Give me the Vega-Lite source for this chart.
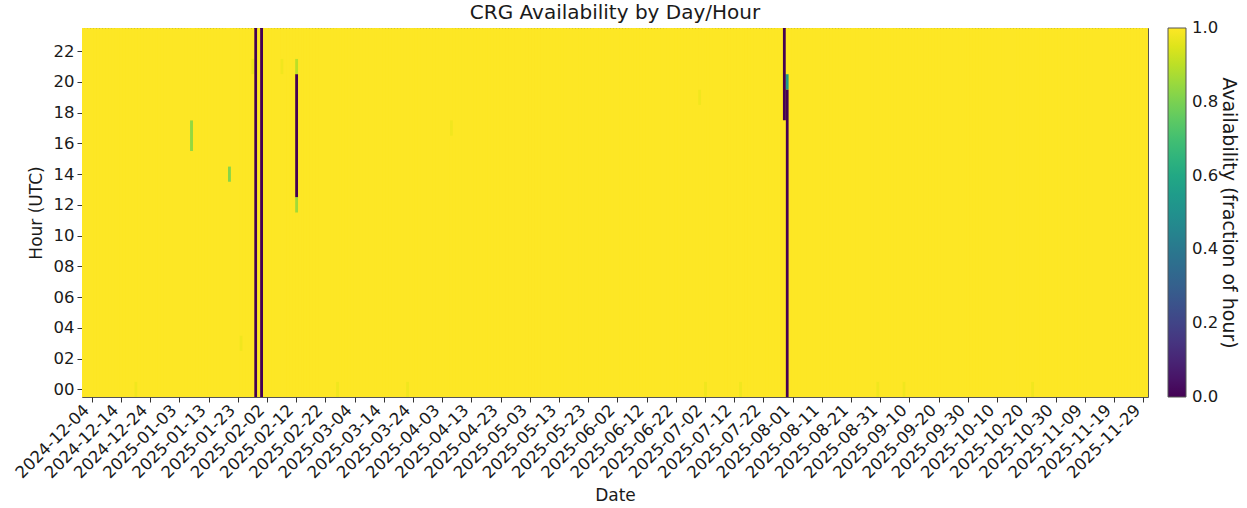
{
  "$schema": "https://vega.github.io/schema/vega-lite/v6.json",
  "width": 1066,
  "height": 369,
  "autosize": {"type": "none"},
  "padding": {"left": 82, "top": 28, "right": 99, "bottom": 111},
  "background": "white",
  "title": {"text": "CRG Availability by Day/Hour", "fontSize": 20, "fontWeight": "normal", "font": "DejaVu Sans", "color": "#1a1a1a", "offset": 5},
  "config": {
    "view": {"stroke": "#555555", "strokeWidth": 1, "fill": "#fde725"},
    "font": "DejaVu Sans"
  },
  "data": {"values": [
{"d":"2024-12-01","a":0,"b":24,"v":1},{"d":"2024-12-02","a":0,"b":24,"v":1},{"d":"2024-12-03","a":0,"b":24,"v":1},{"d":"2024-12-04","a":0,"b":24,"v":1},{"d":"2024-12-05","a":0,"b":24,"v":1},{"d":"2024-12-06","a":0,"b":24,"v":1},{"d":"2024-12-07","a":0,"b":24,"v":1},{"d":"2024-12-08","a":0,"b":24,"v":1},{"d":"2024-12-09","a":0,"b":24,"v":1},{"d":"2024-12-10","a":0,"b":24,"v":1},
{"d":"2024-12-11","a":0,"b":24,"v":1},{"d":"2024-12-12","a":0,"b":24,"v":1},{"d":"2024-12-13","a":0,"b":24,"v":1},{"d":"2024-12-14","a":0,"b":24,"v":1},{"d":"2024-12-15","a":0,"b":24,"v":1},{"d":"2024-12-16","a":0,"b":24,"v":1},{"d":"2024-12-17","a":0,"b":24,"v":1},{"d":"2024-12-18","a":0,"b":24,"v":1},{"d":"2024-12-19","a":0,"b":1,"v":0.98},{"d":"2024-12-19","a":1,"b":24,"v":1},{"d":"2024-12-20","a":0,"b":24,"v":1},
{"d":"2024-12-21","a":0,"b":24,"v":1},{"d":"2024-12-22","a":0,"b":24,"v":1},{"d":"2024-12-23","a":0,"b":24,"v":1},{"d":"2024-12-24","a":0,"b":24,"v":1},{"d":"2024-12-25","a":0,"b":24,"v":1},{"d":"2024-12-26","a":0,"b":24,"v":1},{"d":"2024-12-27","a":0,"b":24,"v":1},{"d":"2024-12-28","a":0,"b":24,"v":1},{"d":"2024-12-29","a":0,"b":24,"v":1},{"d":"2024-12-30","a":0,"b":24,"v":1},{"d":"2024-12-31","a":0,"b":24,"v":1},
{"d":"2025-01-01","a":0,"b":24,"v":1},{"d":"2025-01-02","a":0,"b":24,"v":1},{"d":"2025-01-03","a":0,"b":24,"v":1},{"d":"2025-01-04","a":0,"b":24,"v":1},{"d":"2025-01-05","a":0,"b":24,"v":1},{"d":"2025-01-06","a":0,"b":24,"v":1},{"d":"2025-01-07","a":0,"b":16,"v":1},{"d":"2025-01-07","a":16,"b":18,"v":0.84},{"d":"2025-01-07","a":18,"b":24,"v":1},{"d":"2025-01-08","a":0,"b":24,"v":1},{"d":"2025-01-09","a":0,"b":24,"v":1},{"d":"2025-01-10","a":0,"b":24,"v":1},
{"d":"2025-01-11","a":0,"b":24,"v":1},{"d":"2025-01-12","a":0,"b":24,"v":1},{"d":"2025-01-13","a":0,"b":24,"v":1},{"d":"2025-01-14","a":0,"b":24,"v":1},{"d":"2025-01-15","a":0,"b":24,"v":1},{"d":"2025-01-16","a":0,"b":24,"v":1},{"d":"2025-01-17","a":0,"b":24,"v":1},{"d":"2025-01-18","a":0,"b":24,"v":1},{"d":"2025-01-19","a":0,"b":24,"v":1},{"d":"2025-01-20","a":0,"b":14,"v":1},{"d":"2025-01-20","a":14,"b":15,"v":0.82},{"d":"2025-01-20","a":15,"b":24,"v":1},
{"d":"2025-01-21","a":0,"b":24,"v":1},{"d":"2025-01-22","a":0,"b":24,"v":1},{"d":"2025-01-23","a":0,"b":24,"v":1},{"d":"2025-01-24","a":0,"b":3,"v":1},{"d":"2025-01-24","a":3,"b":4,"v":0.98},{"d":"2025-01-24","a":4,"b":24,"v":1},{"d":"2025-01-25","a":0,"b":24,"v":1},{"d":"2025-01-26","a":0,"b":24,"v":1},{"d":"2025-01-27","a":0,"b":24,"v":1},{"d":"2025-01-28","a":0,"b":21,"v":1},{"d":"2025-01-28","a":21,"b":22,"v":0.97},{"d":"2025-01-28","a":22,"b":24,"v":1},{"d":"2025-01-29","a":0,"b":24,"v":0},{"d":"2025-01-30","a":0,"b":24,"v":1},{"d":"2025-01-31","a":0,"b":24,"v":0},
{"d":"2025-02-01","a":0,"b":24,"v":1},{"d":"2025-02-02","a":0,"b":24,"v":1},{"d":"2025-02-03","a":0,"b":24,"v":1},{"d":"2025-02-04","a":0,"b":24,"v":1},{"d":"2025-02-05","a":0,"b":24,"v":1},{"d":"2025-02-06","a":0,"b":24,"v":1},{"d":"2025-02-07","a":0,"b":21,"v":1},{"d":"2025-02-07","a":21,"b":22,"v":0.98},{"d":"2025-02-07","a":22,"b":24,"v":1},{"d":"2025-02-08","a":0,"b":24,"v":1},{"d":"2025-02-09","a":0,"b":24,"v":1},{"d":"2025-02-10","a":0,"b":24,"v":1},
{"d":"2025-02-11","a":0,"b":24,"v":1},{"d":"2025-02-12","a":0,"b":12,"v":1},{"d":"2025-02-12","a":12,"b":13,"v":0.86},{"d":"2025-02-12","a":13,"b":21,"v":0},{"d":"2025-02-12","a":21,"b":22,"v":0.9},{"d":"2025-02-12","a":22,"b":24,"v":1},{"d":"2025-02-13","a":0,"b":24,"v":1},{"d":"2025-02-14","a":0,"b":24,"v":1},{"d":"2025-02-15","a":0,"b":24,"v":1},{"d":"2025-02-16","a":0,"b":24,"v":1},{"d":"2025-02-17","a":0,"b":24,"v":1},{"d":"2025-02-18","a":0,"b":24,"v":1},{"d":"2025-02-19","a":0,"b":24,"v":1},{"d":"2025-02-20","a":0,"b":24,"v":1},
{"d":"2025-02-21","a":0,"b":24,"v":1},{"d":"2025-02-22","a":0,"b":24,"v":1},{"d":"2025-02-23","a":0,"b":24,"v":1},{"d":"2025-02-24","a":0,"b":24,"v":1},{"d":"2025-02-25","a":0,"b":24,"v":1},{"d":"2025-02-26","a":0,"b":1,"v":0.98},{"d":"2025-02-26","a":1,"b":24,"v":1},{"d":"2025-02-27","a":0,"b":24,"v":1},{"d":"2025-02-28","a":0,"b":24,"v":1},
{"d":"2025-03-01","a":0,"b":24,"v":1},{"d":"2025-03-02","a":0,"b":24,"v":1},{"d":"2025-03-03","a":0,"b":24,"v":1},{"d":"2025-03-04","a":0,"b":24,"v":1},{"d":"2025-03-05","a":0,"b":24,"v":1},{"d":"2025-03-06","a":0,"b":24,"v":1},{"d":"2025-03-07","a":0,"b":24,"v":1},{"d":"2025-03-08","a":0,"b":24,"v":1},{"d":"2025-03-09","a":0,"b":24,"v":1},{"d":"2025-03-10","a":0,"b":24,"v":1},
{"d":"2025-03-11","a":0,"b":24,"v":1},{"d":"2025-03-12","a":0,"b":24,"v":1},{"d":"2025-03-13","a":0,"b":24,"v":1},{"d":"2025-03-14","a":0,"b":24,"v":1},{"d":"2025-03-15","a":0,"b":24,"v":1},{"d":"2025-03-16","a":0,"b":24,"v":1},{"d":"2025-03-17","a":0,"b":24,"v":1},{"d":"2025-03-18","a":0,"b":24,"v":1},{"d":"2025-03-19","a":0,"b":24,"v":1},{"d":"2025-03-20","a":0,"b":24,"v":1},
{"d":"2025-03-21","a":0,"b":24,"v":1},{"d":"2025-03-22","a":0,"b":1,"v":0.98},{"d":"2025-03-22","a":1,"b":24,"v":1},{"d":"2025-03-23","a":0,"b":24,"v":1},{"d":"2025-03-24","a":0,"b":24,"v":1},{"d":"2025-03-25","a":0,"b":24,"v":1},{"d":"2025-03-26","a":0,"b":24,"v":1},{"d":"2025-03-27","a":0,"b":24,"v":1},{"d":"2025-03-28","a":0,"b":24,"v":1},{"d":"2025-03-29","a":0,"b":24,"v":1},{"d":"2025-03-30","a":0,"b":24,"v":1},{"d":"2025-03-31","a":0,"b":24,"v":1},
{"d":"2025-04-01","a":0,"b":24,"v":1},{"d":"2025-04-02","a":0,"b":24,"v":1},{"d":"2025-04-03","a":0,"b":24,"v":1},{"d":"2025-04-04","a":0,"b":24,"v":1},{"d":"2025-04-05","a":0,"b":24,"v":1},{"d":"2025-04-06","a":0,"b":17,"v":1},{"d":"2025-04-06","a":17,"b":18,"v":0.98},{"d":"2025-04-06","a":18,"b":24,"v":1},{"d":"2025-04-07","a":0,"b":24,"v":1},{"d":"2025-04-08","a":0,"b":24,"v":1},{"d":"2025-04-09","a":0,"b":24,"v":1},{"d":"2025-04-10","a":0,"b":24,"v":1},
{"d":"2025-04-11","a":0,"b":24,"v":1},{"d":"2025-04-12","a":0,"b":24,"v":1},{"d":"2025-04-13","a":0,"b":24,"v":1},{"d":"2025-04-14","a":0,"b":24,"v":1},{"d":"2025-04-15","a":0,"b":24,"v":1},{"d":"2025-04-16","a":0,"b":24,"v":1},{"d":"2025-04-17","a":0,"b":24,"v":1},{"d":"2025-04-18","a":0,"b":24,"v":1},{"d":"2025-04-19","a":0,"b":24,"v":1},{"d":"2025-04-20","a":0,"b":24,"v":1},
{"d":"2025-04-21","a":0,"b":24,"v":1},{"d":"2025-04-22","a":0,"b":24,"v":1},{"d":"2025-04-23","a":0,"b":24,"v":1},{"d":"2025-04-24","a":0,"b":24,"v":1},{"d":"2025-04-25","a":0,"b":24,"v":1},{"d":"2025-04-26","a":0,"b":24,"v":1},{"d":"2025-04-27","a":0,"b":24,"v":1},{"d":"2025-04-28","a":0,"b":24,"v":1},{"d":"2025-04-29","a":0,"b":24,"v":1},{"d":"2025-04-30","a":0,"b":24,"v":1},
{"d":"2025-05-01","a":0,"b":24,"v":1},{"d":"2025-05-02","a":0,"b":24,"v":1},{"d":"2025-05-03","a":0,"b":24,"v":1},{"d":"2025-05-04","a":0,"b":24,"v":1},{"d":"2025-05-05","a":0,"b":24,"v":1},{"d":"2025-05-06","a":0,"b":24,"v":1},{"d":"2025-05-07","a":0,"b":24,"v":1},{"d":"2025-05-08","a":0,"b":24,"v":1},{"d":"2025-05-09","a":0,"b":24,"v":1},{"d":"2025-05-10","a":0,"b":24,"v":1},
{"d":"2025-05-11","a":0,"b":24,"v":1},{"d":"2025-05-12","a":0,"b":24,"v":1},{"d":"2025-05-13","a":0,"b":24,"v":1},{"d":"2025-05-14","a":0,"b":24,"v":1},{"d":"2025-05-15","a":0,"b":24,"v":1},{"d":"2025-05-16","a":0,"b":24,"v":1},{"d":"2025-05-17","a":0,"b":24,"v":1},{"d":"2025-05-18","a":0,"b":24,"v":1},{"d":"2025-05-19","a":0,"b":24,"v":1},{"d":"2025-05-20","a":0,"b":24,"v":1},
{"d":"2025-05-21","a":0,"b":24,"v":1},{"d":"2025-05-22","a":0,"b":24,"v":1},{"d":"2025-05-23","a":0,"b":24,"v":1},{"d":"2025-05-24","a":0,"b":24,"v":1},{"d":"2025-05-25","a":0,"b":24,"v":1},{"d":"2025-05-26","a":0,"b":24,"v":1},{"d":"2025-05-27","a":0,"b":24,"v":1},{"d":"2025-05-28","a":0,"b":24,"v":1},{"d":"2025-05-29","a":0,"b":24,"v":1},{"d":"2025-05-30","a":0,"b":24,"v":1},{"d":"2025-05-31","a":0,"b":24,"v":1},
{"d":"2025-06-01","a":0,"b":24,"v":1},{"d":"2025-06-02","a":0,"b":24,"v":1},{"d":"2025-06-03","a":0,"b":24,"v":1},{"d":"2025-06-04","a":0,"b":24,"v":1},{"d":"2025-06-05","a":0,"b":24,"v":1},{"d":"2025-06-06","a":0,"b":24,"v":1},{"d":"2025-06-07","a":0,"b":24,"v":1},{"d":"2025-06-08","a":0,"b":24,"v":1},{"d":"2025-06-09","a":0,"b":24,"v":1},{"d":"2025-06-10","a":0,"b":24,"v":1},
{"d":"2025-06-11","a":0,"b":24,"v":1},{"d":"2025-06-12","a":0,"b":24,"v":1},{"d":"2025-06-13","a":0,"b":24,"v":1},{"d":"2025-06-14","a":0,"b":24,"v":1},{"d":"2025-06-15","a":0,"b":24,"v":1},{"d":"2025-06-16","a":0,"b":24,"v":1},{"d":"2025-06-17","a":0,"b":24,"v":1},{"d":"2025-06-18","a":0,"b":24,"v":1},{"d":"2025-06-19","a":0,"b":24,"v":1},{"d":"2025-06-20","a":0,"b":24,"v":1},
{"d":"2025-06-21","a":0,"b":24,"v":1},{"d":"2025-06-22","a":0,"b":24,"v":1},{"d":"2025-06-23","a":0,"b":24,"v":1},{"d":"2025-06-24","a":0,"b":24,"v":1},{"d":"2025-06-25","a":0,"b":24,"v":1},{"d":"2025-06-26","a":0,"b":24,"v":1},{"d":"2025-06-27","a":0,"b":24,"v":1},{"d":"2025-06-28","a":0,"b":24,"v":1},{"d":"2025-06-29","a":0,"b":24,"v":1},{"d":"2025-06-30","a":0,"b":19,"v":1},{"d":"2025-06-30","a":19,"b":20,"v":0.98},{"d":"2025-06-30","a":20,"b":24,"v":1},
{"d":"2025-07-01","a":0,"b":24,"v":1},{"d":"2025-07-02","a":0,"b":1,"v":0.98},{"d":"2025-07-02","a":1,"b":24,"v":1},{"d":"2025-07-03","a":0,"b":24,"v":1},{"d":"2025-07-04","a":0,"b":24,"v":1},{"d":"2025-07-05","a":0,"b":24,"v":1},{"d":"2025-07-06","a":0,"b":24,"v":1},{"d":"2025-07-07","a":0,"b":24,"v":1},{"d":"2025-07-08","a":0,"b":24,"v":1},{"d":"2025-07-09","a":0,"b":24,"v":1},{"d":"2025-07-10","a":0,"b":24,"v":1},
{"d":"2025-07-11","a":0,"b":24,"v":1},{"d":"2025-07-12","a":0,"b":24,"v":1},{"d":"2025-07-13","a":0,"b":24,"v":1},{"d":"2025-07-14","a":0,"b":1,"v":0.98},{"d":"2025-07-14","a":1,"b":24,"v":1},{"d":"2025-07-15","a":0,"b":24,"v":1},{"d":"2025-07-16","a":0,"b":24,"v":1},{"d":"2025-07-17","a":0,"b":24,"v":1},{"d":"2025-07-18","a":0,"b":24,"v":1},{"d":"2025-07-19","a":0,"b":24,"v":1},{"d":"2025-07-20","a":0,"b":24,"v":1},
{"d":"2025-07-21","a":0,"b":24,"v":1},{"d":"2025-07-22","a":0,"b":24,"v":1},{"d":"2025-07-23","a":0,"b":24,"v":1},{"d":"2025-07-24","a":0,"b":24,"v":1},{"d":"2025-07-25","a":0,"b":24,"v":1},{"d":"2025-07-26","a":0,"b":24,"v":1},{"d":"2025-07-27","a":0,"b":24,"v":1},{"d":"2025-07-28","a":0,"b":24,"v":1},{"d":"2025-07-29","a":0,"b":18,"v":1},{"d":"2025-07-29","a":18,"b":24,"v":0},{"d":"2025-07-30","a":0,"b":20,"v":0},{"d":"2025-07-30","a":20,"b":21,"v":0.55},{"d":"2025-07-30","a":21,"b":24,"v":1},{"d":"2025-07-31","a":0,"b":24,"v":1},
{"d":"2025-08-01","a":0,"b":24,"v":1},{"d":"2025-08-02","a":0,"b":24,"v":1},{"d":"2025-08-03","a":0,"b":24,"v":1},{"d":"2025-08-04","a":0,"b":24,"v":1},{"d":"2025-08-05","a":0,"b":24,"v":1},{"d":"2025-08-06","a":0,"b":24,"v":1},{"d":"2025-08-07","a":0,"b":24,"v":1},{"d":"2025-08-08","a":0,"b":24,"v":1},{"d":"2025-08-09","a":0,"b":24,"v":1},{"d":"2025-08-10","a":0,"b":24,"v":1},
{"d":"2025-08-11","a":0,"b":24,"v":1},{"d":"2025-08-12","a":0,"b":24,"v":1},{"d":"2025-08-13","a":0,"b":24,"v":1},{"d":"2025-08-14","a":0,"b":24,"v":1},{"d":"2025-08-15","a":0,"b":24,"v":1},{"d":"2025-08-16","a":0,"b":24,"v":1},{"d":"2025-08-17","a":0,"b":24,"v":1},{"d":"2025-08-18","a":0,"b":24,"v":1},{"d":"2025-08-19","a":0,"b":24,"v":1},{"d":"2025-08-20","a":0,"b":24,"v":1},
{"d":"2025-08-21","a":0,"b":24,"v":1},{"d":"2025-08-22","a":0,"b":24,"v":1},{"d":"2025-08-23","a":0,"b":24,"v":1},{"d":"2025-08-24","a":0,"b":24,"v":1},{"d":"2025-08-25","a":0,"b":24,"v":1},{"d":"2025-08-26","a":0,"b":24,"v":1},{"d":"2025-08-27","a":0,"b":24,"v":1},{"d":"2025-08-28","a":0,"b":24,"v":1},{"d":"2025-08-29","a":0,"b":24,"v":1},{"d":"2025-08-30","a":0,"b":1,"v":0.98},{"d":"2025-08-30","a":1,"b":24,"v":1},{"d":"2025-08-31","a":0,"b":24,"v":1},
{"d":"2025-09-01","a":0,"b":24,"v":1},{"d":"2025-09-02","a":0,"b":24,"v":1},{"d":"2025-09-03","a":0,"b":24,"v":1},{"d":"2025-09-04","a":0,"b":24,"v":1},{"d":"2025-09-05","a":0,"b":24,"v":1},{"d":"2025-09-06","a":0,"b":24,"v":1},{"d":"2025-09-07","a":0,"b":24,"v":1},{"d":"2025-09-08","a":0,"b":1,"v":0.98},{"d":"2025-09-08","a":1,"b":24,"v":1},{"d":"2025-09-09","a":0,"b":24,"v":1},{"d":"2025-09-10","a":0,"b":24,"v":1},
{"d":"2025-09-11","a":0,"b":24,"v":1},{"d":"2025-09-12","a":0,"b":24,"v":1},{"d":"2025-09-13","a":0,"b":24,"v":1},{"d":"2025-09-14","a":0,"b":24,"v":1},{"d":"2025-09-15","a":0,"b":24,"v":1},{"d":"2025-09-16","a":0,"b":24,"v":1},{"d":"2025-09-17","a":0,"b":24,"v":1},{"d":"2025-09-18","a":0,"b":24,"v":1},{"d":"2025-09-19","a":0,"b":24,"v":1},{"d":"2025-09-20","a":0,"b":24,"v":1},
{"d":"2025-09-21","a":0,"b":24,"v":1},{"d":"2025-09-22","a":0,"b":24,"v":1},{"d":"2025-09-23","a":0,"b":24,"v":1},{"d":"2025-09-24","a":0,"b":24,"v":1},{"d":"2025-09-25","a":0,"b":24,"v":1},{"d":"2025-09-26","a":0,"b":24,"v":1},{"d":"2025-09-27","a":0,"b":24,"v":1},{"d":"2025-09-28","a":0,"b":24,"v":1},{"d":"2025-09-29","a":0,"b":24,"v":1},{"d":"2025-09-30","a":0,"b":24,"v":1},
{"d":"2025-10-01","a":0,"b":24,"v":1},{"d":"2025-10-02","a":0,"b":24,"v":1},{"d":"2025-10-03","a":0,"b":24,"v":1},{"d":"2025-10-04","a":0,"b":24,"v":1},{"d":"2025-10-05","a":0,"b":24,"v":1},{"d":"2025-10-06","a":0,"b":24,"v":1},{"d":"2025-10-07","a":0,"b":24,"v":1},{"d":"2025-10-08","a":0,"b":24,"v":1},{"d":"2025-10-09","a":0,"b":24,"v":1},{"d":"2025-10-10","a":0,"b":24,"v":1},
{"d":"2025-10-11","a":0,"b":24,"v":1},{"d":"2025-10-12","a":0,"b":24,"v":1},{"d":"2025-10-13","a":0,"b":24,"v":1},{"d":"2025-10-14","a":0,"b":24,"v":1},{"d":"2025-10-15","a":0,"b":24,"v":1},{"d":"2025-10-16","a":0,"b":24,"v":1},{"d":"2025-10-17","a":0,"b":24,"v":1},{"d":"2025-10-18","a":0,"b":24,"v":1},{"d":"2025-10-19","a":0,"b":24,"v":1},{"d":"2025-10-20","a":0,"b":24,"v":1},
{"d":"2025-10-21","a":0,"b":24,"v":1},{"d":"2025-10-22","a":0,"b":1,"v":0.98},{"d":"2025-10-22","a":1,"b":24,"v":1},{"d":"2025-10-23","a":0,"b":24,"v":1},{"d":"2025-10-24","a":0,"b":24,"v":1},{"d":"2025-10-25","a":0,"b":24,"v":1},{"d":"2025-10-26","a":0,"b":24,"v":1},{"d":"2025-10-27","a":0,"b":24,"v":1},{"d":"2025-10-28","a":0,"b":24,"v":1},{"d":"2025-10-29","a":0,"b":24,"v":1},{"d":"2025-10-30","a":0,"b":24,"v":1},{"d":"2025-10-31","a":0,"b":24,"v":1},
{"d":"2025-11-01","a":0,"b":24,"v":1},{"d":"2025-11-02","a":0,"b":24,"v":1},{"d":"2025-11-03","a":0,"b":24,"v":1},{"d":"2025-11-04","a":0,"b":24,"v":1},{"d":"2025-11-05","a":0,"b":24,"v":1},{"d":"2025-11-06","a":0,"b":24,"v":1},{"d":"2025-11-07","a":0,"b":24,"v":1},{"d":"2025-11-08","a":0,"b":24,"v":1},{"d":"2025-11-09","a":0,"b":24,"v":1},{"d":"2025-11-10","a":0,"b":24,"v":1},
{"d":"2025-11-11","a":0,"b":24,"v":1},{"d":"2025-11-12","a":0,"b":24,"v":1},{"d":"2025-11-13","a":0,"b":24,"v":1},{"d":"2025-11-14","a":0,"b":24,"v":1},{"d":"2025-11-15","a":0,"b":24,"v":1},{"d":"2025-11-16","a":0,"b":24,"v":1},{"d":"2025-11-17","a":0,"b":24,"v":1},{"d":"2025-11-18","a":0,"b":24,"v":1},{"d":"2025-11-19","a":0,"b":24,"v":1},{"d":"2025-11-20","a":0,"b":24,"v":1},
{"d":"2025-11-21","a":0,"b":24,"v":1},{"d":"2025-11-22","a":0,"b":24,"v":1},{"d":"2025-11-23","a":0,"b":24,"v":1},{"d":"2025-11-24","a":0,"b":24,"v":1},{"d":"2025-11-25","a":0,"b":24,"v":1},{"d":"2025-11-26","a":0,"b":24,"v":1},{"d":"2025-11-27","a":0,"b":24,"v":1},{"d":"2025-11-28","a":0,"b":24,"v":1},{"d":"2025-11-29","a":0,"b":24,"v":1},{"d":"2025-11-30","a":0,"b":24,"v":1}
  ]},
  "mark": {"type": "rect", "strokeWidth": 0},
  "encoding": {
    "x": {
      "field": "d", "type": "ordinal",
      "scale": {"paddingInner": 0, "paddingOuter": 0},
      "axis": {
        "title": "Date", "titleFontSize": 17, "titleFontWeight": "normal", "titleColor": "#1a1a1a", "titleFont": "DejaVu Sans", "titlePadding": 6,
        "values": ["2024-12-04","2024-12-14","2024-12-24","2025-01-03","2025-01-13","2025-01-23","2025-02-02","2025-02-12","2025-02-22","2025-03-04","2025-03-14","2025-03-24","2025-04-03","2025-04-13","2025-04-23","2025-05-03","2025-05-13","2025-05-23","2025-06-02","2025-06-12","2025-06-22","2025-07-02","2025-07-12","2025-07-22","2025-08-01","2025-08-11","2025-08-21","2025-08-31","2025-09-10","2025-09-20","2025-09-30","2025-10-10","2025-10-20","2025-10-30","2025-11-09","2025-11-19","2025-11-29"],
        "labelAngle": -45, "labelAlign": "right", "labelBaseline": "bottom", "labelFontSize": 16.5, "labelColor": "#1a1a1a", "labelFont": "DejaVu Sans",
        "labelPadding": 11, "labelOverlap": false,
        "domain": false, "tickColor": "#333333", "tickSize": 5, "grid": false
      }
    },
    "y": {
      "field": "a", "type": "quantitative",
      "scale": {"domain": [0, 24], "nice": false, "zero": false},
      "axis": {
        "title": "Hour (UTC)", "titleFontSize": 17, "titleFontWeight": "normal", "titleColor": "#1a1a1a", "titleFont": "DejaVu Sans", "titlePadding": 8,
        "values": [0.5, 2.5, 4.5, 6.5, 8.5, 10.5, 12.5, 14.5, 16.5, 18.5, 20.5, 22.5],
        "labelExpr": "(datum.value < 10 ? '0' : '') + floor(datum.value)",
        "labelFontSize": 16.5, "labelColor": "#1a1a1a", "labelFont": "DejaVu Sans", "labelPadding": 3,
        "domain": false, "tickColor": "#333333", "tickSize": 5, "grid": false
      }
    },
    "y2": {"field": "b"},
    "color": {
      "field": "v", "type": "quantitative",
      "scale": {"scheme": "viridis", "domain": [0, 1]},
      "legend": {
        "title": "Availability (fraction of hour)", "titleFontSize": 19, "titleFontWeight": "normal", "titleColor": "#1a1a1a", "titleFont": "DejaVu Sans",
        "titleOrient": "right", "titleAngle": 270, "titleAnchor": "middle", "titleBaseline": "top", "titlePadding": 20, "titleLimit": 500,
        "orient": "none", "legendX": 1086, "legendY": 0, "padding": 0,
        "gradientLength": 369, "gradientThickness": 18, "gradientStrokeColor": "#555555", "gradientStrokeWidth": 1,
        "values": [0, 0.2, 0.4, 0.6, 0.8, 1], "format": ".1f",
        "labelFontSize": 16.5, "labelColor": "#1a1a1a", "labelFont": "DejaVu Sans", "labelOffset": 6, "labelOverlap": false,
        "encode": {"labels": {"update": {"baseline": {"value": "middle"}}}}
      }
    }
  }
}
